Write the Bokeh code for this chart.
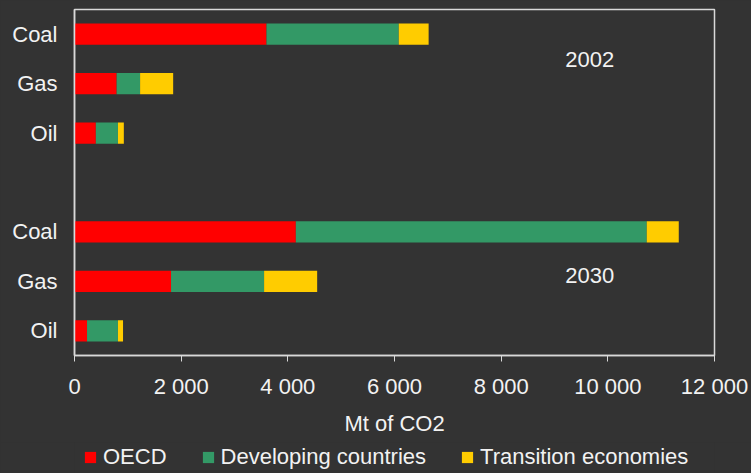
from bokeh.plotting import figure
from bokeh.layouts import column
from bokeh.models import ColumnDataSource, Range1d, FixedTicker, Legend, LegendItem
from bokeh.core.properties import value
from bokeh.embed import file_html
from bokeh.resources import INLINE

fuels = ["Coal", "Gas", "Oil"]
years = ["2002", "2030"]
oecd_2002 = [3600, 790, 400]
dev_2002 = [2480, 440, 415]
trans_2002 = [560, 620, 110]
oecd_2030 = [4150, 1810, 235]
dev_2030 = [6580, 1745, 580]
trans_2030 = [600, 995, 95]
series = ["OECD", "Developing countries", "Transition economies"]
colors = ["#FF0000", "#339966", "#FFCC00"]
x_ticks = [0, 2000, 4000, 6000, 8000, 10000, 12000]
x_tick_labels = ["0", "2 000", "4 000", "6 000", "8 000", "10 000", "12 000"]

FONT = "Liberation Sans"
FS = "22px"
TXT = "#f2f2f2"
BG = "#333333"
LINE = "#d9d9d9"

# rows: 2002 block on top, gap, then 2030 block
ys, labels, oecd, dev, trans = [], [], [], [], []
blocks = [(oecd_2002, dev_2002, trans_2002), (oecd_2030, dev_2030, trans_2030)]
for b, (o, d, t) in enumerate(blocks):
    for i, f in enumerate(fuels):
        ys.append(6.5 - i - 4 * b)
        labels.append(f)
        oecd.append(o[i]); dev.append(d[i]); trans.append(t[i])

src = ColumnDataSource(dict(y=ys, OECD=oecd, **{"Developing countries": dev, "Transition economies": trans}))

p = figure(width=751, height=442, output_backend="svg", toolbar_location=None,
           x_range=Range1d(0, 12000), y_range=Range1d(0, 7),
           min_border_left=74, min_border_right=37, min_border_top=9, min_border_bottom=87)
p.background_fill_color = BG
p.border_fill_color = BG
p.outline_line_color = LINE
p.outline_line_width = 1.5
p.xgrid.visible = False
p.ygrid.visible = False

rs = p.hbar_stack(series, y="y", height=0.43, color=colors, source=src, line_width=0)

# axes
p.xaxis.ticker = FixedTicker(ticks=x_ticks)
p.xaxis.major_label_overrides = {t: l for t, l in zip(x_ticks, x_tick_labels)}
p.xaxis.axis_label = "Mt of CO2"
p.yaxis.ticker = FixedTicker(ticks=ys)
p.yaxis.major_label_overrides = {y: l for y, l in zip(ys, labels)}
for ax in (p.xaxis, p.yaxis):
    ax.axis_line_color = LINE
    ax.axis_line_width = 1.5
    ax.major_label_text_font = FONT
    ax.major_label_text_font_size = FS
    ax.major_label_text_color = TXT
    ax.minor_tick_line_color = None
    ax.axis_label_text_font = FONT
    ax.axis_label_text_font_size = FS
    ax.axis_label_text_font_style = "normal"
    ax.axis_label_text_color = TXT
p.xaxis.major_tick_line_color = LINE
p.xaxis.major_tick_out = 6
p.xaxis.major_tick_in = 0
p.xaxis.major_label_standoff = 12
p.xaxis.axis_label_standoff = 9
p.yaxis.major_tick_line_color = None
p.yaxis.major_tick_out = 0
p.yaxis.major_tick_in = 0
p.yaxis.major_label_standoff = 17

# year annotations
p.text(x=[9660, 9660], y=[5.99, 1.62], text=years, text_font=value(FONT),
       text_font_size=FS, text_color=TXT, text_align="center", text_baseline="middle")

# legend strip below the chart (its frame is aligned with the chart's frame)
lg = figure(width=751, height=31, output_backend="svg", toolbar_location=None,
            x_range=Range1d(0, 12000), y_range=Range1d(100, 101),
            x_axis_location=None, y_axis_location=None,
            min_border_left=74, min_border_right=37, min_border_top=0, min_border_bottom=0)
lg.background_fill_color = BG
lg.border_fill_color = BG
lg.outline_line_color = None
lg.xgrid.visible = False
lg.ygrid.visible = False
# same stacked series (out of this strip's visible range) serve as legend swatches
proxies = lg.hbar_stack(series, y="y", height=0.43, color=colors, source=src, line_width=0)

legend = Legend(items=[LegendItem(label=s, renderers=[r]) for s, r in zip(series, proxies)],
                orientation="horizontal", location=(9, 3))
legend.background_fill_alpha = 0
legend.border_line_color = None
legend.label_text_font = FONT
legend.label_text_font_size = FS
legend.label_text_color = TXT
legend.glyph_width = 14
legend.glyph_height = 14
legend.label_standoff = 6
legend.spacing = 34
legend.padding = 0
legend.margin = 0
legend.label_height = 22
lg.add_layout(legend, "center")

layout = column(p, lg, spacing=0)
html = file_html(layout, INLINE)
html = html.replace("<body>", '<body style="background-color:#333333;">')
open("out.html", "w").write(html)
